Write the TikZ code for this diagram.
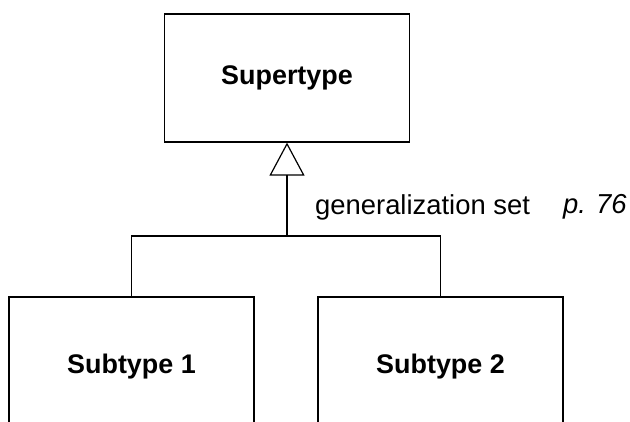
\documentclass[tikz,border=0pt]{standalone}
\usepackage{fontspec}
\setmainfont{Liberation Sans}
\usetikzlibrary{arrows.meta}
\begin{document}
\begin{tikzpicture}[x=1bp,y=-1bp,
  typebox/.style={draw,line width=1.2bp,minimum width=245bp,font=\fontsize{27}{32}\selectfont\bfseries},
  notetext/.style={anchor=west,inner sep=0pt,font=\fontsize{27.5}{32}\selectfont}]
\useasboundingbox (0,0) rectangle (630,421);
\clip (0,0) rectangle (630,421);
\node [typebox,minimum height=128bp] (super) at (287,78) {Supertype};
  \foreach \n/\xpos in {1/131.5,2/440.5}
  {  \node [typebox,minimum height=140bp] (sub\n) at (\xpos,367) {Subtype \n};}
\coordinate (join) at (287,236);
\draw [line width=1.2bp] (sub1.north) |- (join) -| (sub2.north);
\draw [line width=1.2bp,-{Triangle[open,length=33bp,width=35bp]}] (join) -- (super.south);
\node [notetext] (gset) at (315,207) {generalization set};
\node [notetext] (pageref) at (563,207) {\itshape p. 76};
\end{tikzpicture}
\end{document}
